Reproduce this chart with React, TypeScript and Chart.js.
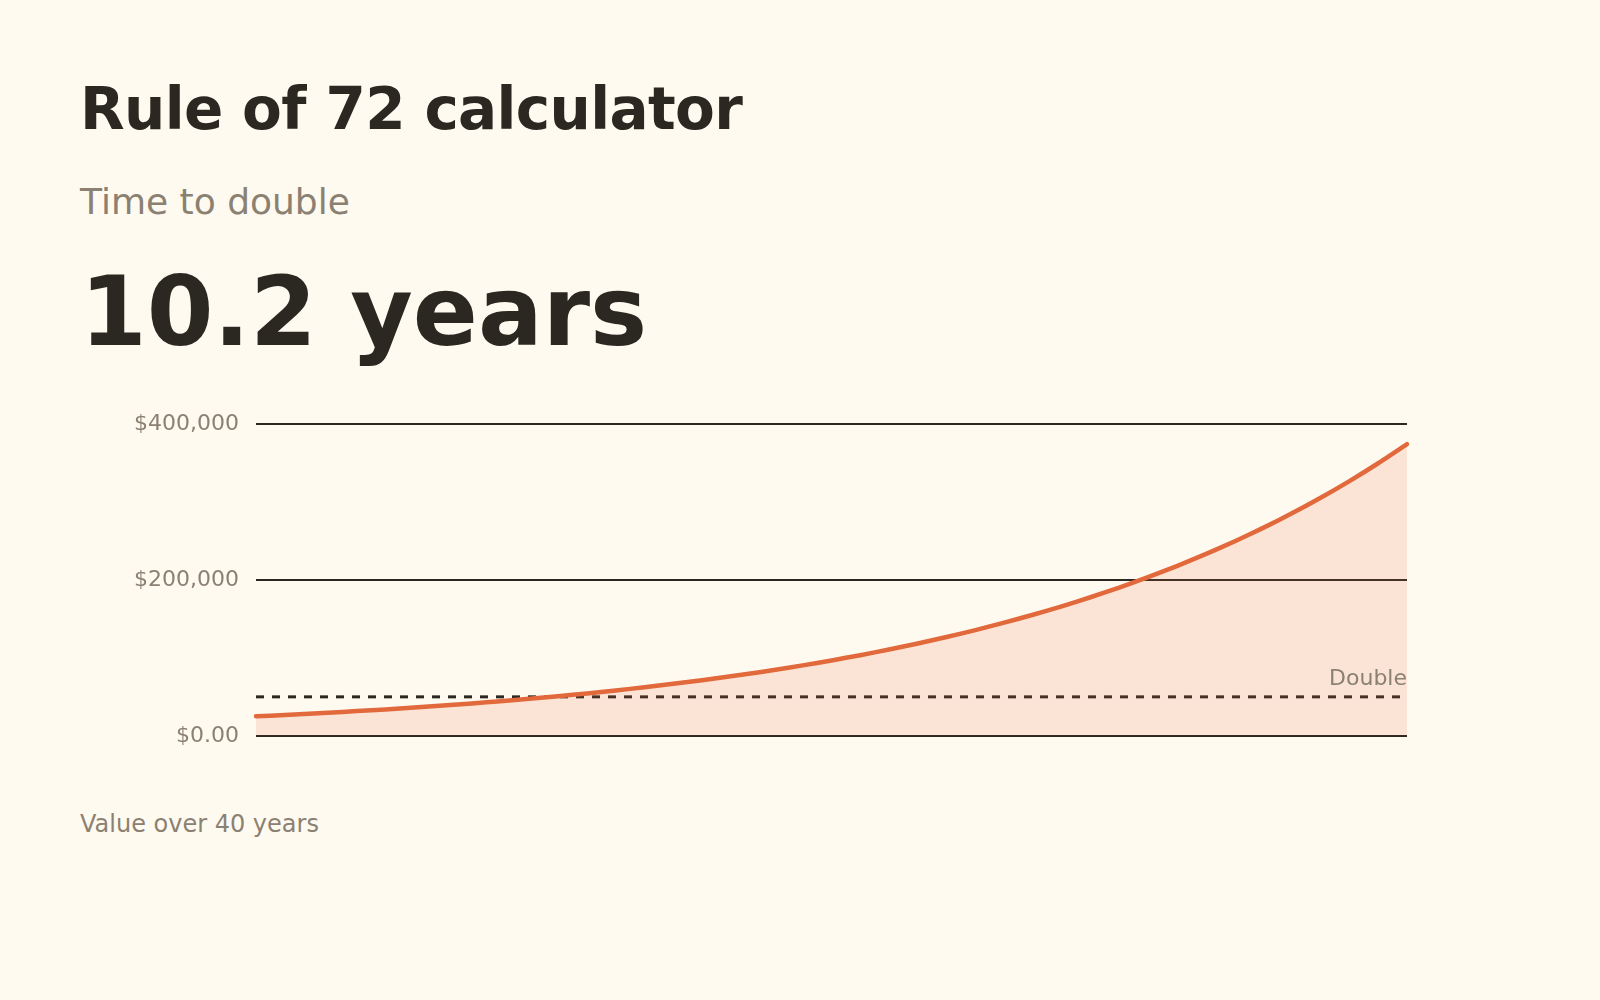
import React, { useEffect, useRef } from "react";
import { Chart, registerables } from "chart.js";

Chart.register(...registerables);

// years 0..40, value of a $25,000 start growing ~7%/yr
const years = [
  "0", "1", "2", "3", "4", "5", "6", "7", "8", "9", "10",
  "11", "12", "13", "14", "15", "16", "17", "18", "19", "20",
  "21", "22", "23", "24", "25", "26", "27", "28", "29", "30",
  "31", "32", "33", "34", "35", "36", "37", "38", "39", "40",
];
const values = [
  25000, 26750, 28620, 30630, 32770, 35060, 37520, 40140, 42950, 45960,
  49180, 52620, 56300, 60240, 64460, 68980, 73810, 78970, 84500, 90420,
  96740, 103510, 110760, 118520, 126810, 135690, 145190, 155350, 166230, 177860,
  190310, 203630, 217890, 233140, 249460, 266920, 285610, 305600, 326990, 349880,
  374360,
];
const yTickValues = [0, 200000, 400000];
const yTickLabels = ["$0.00", "$200,000", "$400,000"];
const doubleValue = 50000;
const doubleLabel = "Double";

const FONT = "'DejaVu Sans', sans-serif";
const DARK = "#2B2822";
const GREY = "#8B8173";
const ORANGE = "#E2693C";
const BG = "#FFFAF0";

const doubleLinePlugin = {
  id: "doubleLine",
  beforeDatasetsDraw(chart: any) {
    const { ctx, chartArea } = chart;
    const y = chart.scales.y.getPixelForValue(doubleValue);
    ctx.save();
    ctx.strokeStyle = DARK;
    ctx.lineWidth = 3;
    ctx.setLineDash([8, 8]);
    ctx.beginPath();
    ctx.moveTo(chartArea.left, y);
    ctx.lineTo(chartArea.right, y);
    ctx.stroke();
    ctx.restore();
  },
  afterDatasetsDraw(chart: any) {
    const { ctx, chartArea } = chart;
    const y = chart.scales.y.getPixelForValue(doubleValue);
    ctx.save();
    ctx.fillStyle = GREY;
    ctx.font = `22px ${FONT}`;
    ctx.textAlign = "right";
    ctx.textBaseline = "alphabetic";
    ctx.fillText(doubleLabel, chartArea.right, y - 12);
    ctx.restore();
  },
};

const GrowthChart = () => {
  const chartRef = useRef<HTMLCanvasElement | null>(null);

  useEffect(() => {
    if (!chartRef.current) return;
    const ctx = chartRef.current.getContext("2d");
    if (!ctx) return;

    const chart = new Chart(ctx, {
      type: "line",
      data: {
        labels: years,
        datasets: [
          {
            label: "Value",
            data: values,
            borderColor: ORANGE,
            borderWidth: 4.5,
            borderCapStyle: "round",
            backgroundColor: "rgba(226, 105, 60, 0.15)",
            fill: "origin",
            pointRadius: 0,
            tension: 0.2,
          },
        ],
      },
      options: {
        animation: false,
        responsive: true,
        maintainAspectRatio: false,
        layout: { padding: { left: 0, right: 193, top: 0, bottom: 0 } },
        plugins: {
          legend: { display: false },
          tooltip: { enabled: false },
        },
        scales: {
          x: { display: false },
          y: {
            min: 0,
            max: 400000,
            afterBuildTicks: (scale: any) => {
              scale.ticks = yTickValues.map((v) => ({ value: v }));
            },
            afterFit: (scale: any) => {
              scale.width = 256;
            },
            grid: { color: DARK, lineWidth: 2, drawTicks: false },
            border: { display: false },
            ticks: {
              color: GREY,
              padding: 17,
              font: { family: FONT, size: 22 },
              callback: (v: any) => {
                const i = yTickValues.indexOf(Number(v));
                return i >= 0 ? yTickLabels[i] : "";
              },
            },
          },
        },
      },
      plugins: [doubleLinePlugin],
    });

    return () => {
      chart.destroy();
    };
  }, []);

  return <canvas ref={chartRef} />;
};

const text = (size: number, top: number, color: string, bold: boolean, extra: React.CSSProperties = {}) =>
  ({
    position: "absolute",
    left: 80,
    top,
    margin: 0,
    fontFamily: FONT,
    fontSize: size,
    lineHeight: 1,
    fontWeight: bold ? 700 : 400,
    color,
    whiteSpace: "nowrap",
    ...extra,
  }) as React.CSSProperties;

export default function App() {
  return (
    <div
      style={{
        position: "fixed",
        left: 0,
        top: 0,
        width: 1600,
        height: 1000,
        background: BG,
        overflow: "hidden",
      }}
    >
      <div style={text(58, 80, DARK, true, { letterSpacing: "-0.65px" })}>Rule of 72 calculator</div>
      <div style={text(36, 184, GREY, false)}>Time to double</div>
      <div style={text(96, 264, DARK, true)}>10.2 years</div>
      <div style={{ position: "absolute", left: 0, top: 394, width: 1600, height: 372 }}>
        <GrowthChart />
      </div>
      <div style={text(24, 812, GREY, false)}>Value over 40 years</div>
    </div>
  );
}
